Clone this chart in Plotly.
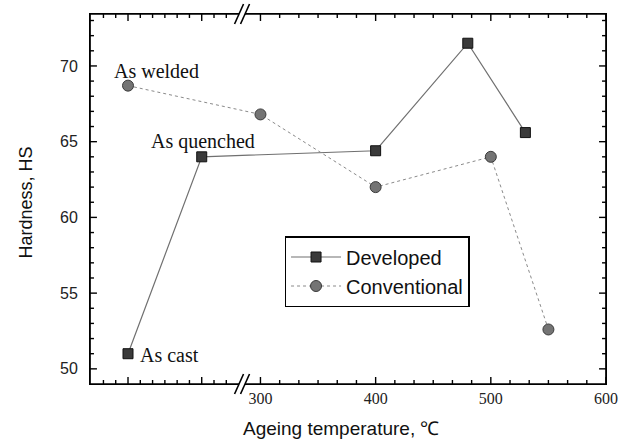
import numpy as np
import plotly.graph_objects as go

# ---------------- data ----------------
series_names = ["Developed", "Conventional"]
# left (broken) part of the x axis holds the un-aged states
state_positions = {"As cast": 185, "As welded": 185, "As quenched": 249}
developed_x = [185, 249, 400, 480, 530]
developed_y = [51.0, 64.0, 64.4, 71.5, 65.6]
conventional_x = [185, 300, 400, 500, 550]
conventional_y = [68.7, 66.8, 62.0, 64.0, 52.6]
x_tick_vals = [185, 249, 300, 400, 500, 600]
x_tick_text = ["", "", "300", "400", "500", "600"]
y_tick_vals = [50, 55, 60, 65, 70]
axis_break = 284
x_range = [152, 600]
y_range = [49.0, 73.43]

SANS = "Liberation Sans, Arial, sans-serif"
SERIF = "Liberation Serif, Times New Roman, serif"

W, H = 630, 439
M = dict(l=90, r=20, t=14, b=55)
plot_w = W - M["l"] - M["r"]
plot_h = H - M["t"] - M["b"]

fig = go.Figure()

# minor tick positions
left_step = (state_positions["As quenched"] - state_positions["As cast"]) / 6
x_minor = [state_positions["As cast"] + k * left_step for k in range(-2, 9) if k % 6 != 0]
x_minor += [300 + k * 100 / 6 for k in range(1, 18) if k % 6 != 0]
y_minor = [v for v in range(50, 74) if v not in y_tick_vals]

# inside tick marks on all four sides, as one line trace in axis units
MAJ, MIN = 7, 4
ux = (x_range[1] - x_range[0]) / plot_w   # axis units per pixel
uy = (y_range[1] - y_range[0]) / plot_h
tx, ty = [], []
for vals, ln in ((x_tick_vals, MAJ), (x_minor, MIN)):
    for v in vals:
        tx += [v, v, None, v, v, None]
        ty += [y_range[0], y_range[0] + ln * uy, None,
               y_range[1], y_range[1] - ln * uy, None]
for vals, ln in ((y_tick_vals, MAJ), (y_minor, MIN)):
    for v in vals:
        tx += [x_range[0], x_range[0] + ln * ux, None,
               x_range[1], x_range[1] - ln * ux, None]
        ty += [v, v, None, v, v, None]
fig.add_trace(go.Scatter(x=tx, y=ty, mode="lines", showlegend=False,
                         hoverinfo="skip", line=dict(color="black", width=1.4),
                         connectgaps=False))

fig.add_trace(go.Scatter(
    x=developed_x, y=developed_y, name=series_names[0], mode="lines+markers",
    line=dict(color="#707070", width=1.2),
    marker=dict(symbol="square", size=10, color="#3a3a3a",
                line=dict(color="#111111", width=1)),
))
fig.add_trace(go.Scatter(
    x=conventional_x, y=conventional_y, name=series_names[1], mode="lines+markers",
    line=dict(color="#8a8a8a", width=1, dash="dot"),
    marker=dict(symbol="circle", size=11, color="#747474",
                line=dict(color="#3a3a3a", width=1)),
))

fig.update_xaxes(
    range=x_range, showgrid=False, zeroline=False,
    showline=True, linecolor="black", mirror=True, ticks="",
    tickmode="array", tickvals=x_tick_vals, ticktext=x_tick_text,
    tickfont=dict(family=SERIF, size=16, color="#222"),
)
fig.update_yaxes(
    range=y_range, showgrid=False, zeroline=False,
    showline=True, linecolor="black", mirror=True, ticks="",
    tickmode="array", tickvals=y_tick_vals,
    tickfont=dict(family=SANS, size=16, color="#222"),
    ticklabelstandoff=8,
)

annotations = [
    dict(x=state_positions["As welded"], y=conventional_y[0], text="As welded",
         xshift=28, yshift=15),
    dict(x=state_positions["As quenched"], y=developed_y[1], text="As quenched",
         xshift=1, yshift=15),
    dict(x=state_positions["As cast"], y=developed_y[0], text="As cast",
         xanchor="left", xshift=10, yshift=-1),
]
for a in annotations:
    a.update(xref="x", yref="y", showarrow=False,
             font=dict(family=SERIF, size=20, color="#111"))
    fig.add_annotation(**a)

fig.add_annotation(xref="paper", yref="paper", x=0.4865, y=-0.119,
                   xanchor="center", yanchor="middle",
                   text="Ageing temperature, ℃", showarrow=False,
                   font=dict(family=SANS, size=19, color="#111"))
fig.add_annotation(xref="paper", yref="paper", x=-0.123, y=0.489,
                   xanchor="center", yanchor="middle",
                   text="Hardness, HS", showarrow=False, textangle=-90,
                   font=dict(family=SANS, size=18, color="#111"))

# heavier frame
fig.add_shape(type="rect", xref="paper", yref="paper", x0=0, x1=1, y0=0, y1=1,
              line=dict(color="black", width=1.7), fillcolor="rgba(0,0,0,0)",
              layer="above")

# axis break marks (top and bottom)
half_gap = 2.6
dx = 3.9
dy = 0.027
for yb in (0, 1):
    fig.add_shape(type="rect", xref="x", yref="paper",
                  x0=axis_break - half_gap, x1=axis_break + half_gap,
                  y0=yb - 0.008, y1=yb + 0.008,
                  fillcolor="white", line=dict(width=0), layer="above")
    for c in (axis_break - half_gap, axis_break + half_gap):
        fig.add_shape(type="line", xref="x", yref="paper",
                      x0=c - dx, x1=c + dx, y0=yb - dy, y1=yb + dy,
                      line=dict(color="black", width=1.6), layer="above")

fig.update_layout(
    width=W, height=H,
    margin=M,
    paper_bgcolor="white", plot_bgcolor="white",
    showlegend=True,
    legend=dict(x=0.377, y=0.40, xanchor="left", yanchor="top",
                bgcolor="white", bordercolor="black", borderwidth=1.5,
                font=dict(family=SANS, size=20, color="#111"),
                itemwidth=50, tracegroupgap=0),
)

fig.write_html("out.html")
